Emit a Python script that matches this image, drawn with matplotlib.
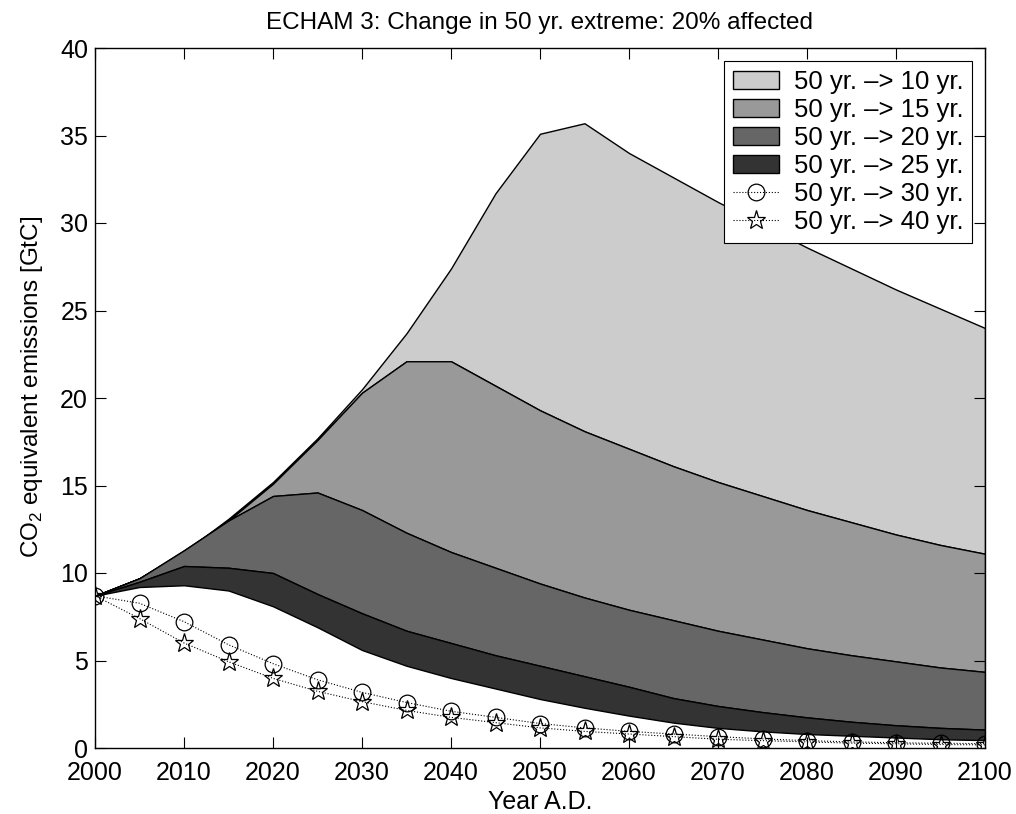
import matplotlib
matplotlib.use("Agg")
import matplotlib.pyplot as plt
import numpy as np

plt.rcParams['font.family'] = ['Liberation Sans', 'DejaVu Sans']
plt.rcParams['mathtext.fontset'] = 'custom'
plt.rcParams['mathtext.rm'] = 'Liberation Sans'

years = list(range(2000, 2101, 5))

y10 = [8.7, 9.7, 11.2, 13.1, 15.2, 17.7, 20.5, 23.7, 27.4, 31.7, 35.1, 35.7,
       34.0, 32.6, 31.2, 29.9, 28.6, 27.4, 26.2, 25.1, 24.0]
y15 = [8.7, 9.7, 11.2, 13.0, 15.1, 17.6, 20.3, 22.1, 22.1, 20.7, 19.3, 18.1,
       17.1, 16.1, 15.2, 14.4, 13.6, 12.9, 12.2, 11.6, 11.1]
y20 = [8.7, 9.7, 11.3, 13.0, 14.4, 14.6, 13.6, 12.3, 11.2, 10.3, 9.4, 8.6,
       7.9, 7.3, 6.7, 6.2, 5.7, 5.3, 4.95, 4.6, 4.35]
y25 = [8.7, 9.5, 10.4, 10.3, 10.0, 8.8, 7.7, 6.7, 6.0, 5.3, 4.7, 4.1,
       3.5, 2.85, 2.4, 2.05, 1.75, 1.5, 1.3, 1.15, 1.05]
ybase = [8.7, 9.2, 9.3, 9.0, 8.1, 6.9, 5.6, 4.7, 4.0, 3.4, 2.8, 2.3,
         1.85, 1.45, 1.15, 0.95, 0.8, 0.7, 0.6, 0.5, 0.45]
y30 = [8.7, 8.27, 7.22, 5.9, 4.82, 3.9, 3.18, 2.6, 2.1, 1.75, 1.4, 1.15,
       0.95, 0.8, 0.65, 0.52, 0.42, 0.35, 0.3, 0.27, 0.25]
y40 = [8.7, 7.4, 6.0, 4.93, 3.98, 3.24, 2.65, 2.15, 1.75, 1.45, 1.15, 0.95,
       0.8, 0.65, 0.5, 0.42, 0.35, 0.28, 0.24, 0.2, 0.18]

labels = ['50 yr. \u2013> 10 yr.', '50 yr. \u2013> 15 yr.', '50 yr. \u2013> 20 yr.',
          '50 yr. \u2013> 25 yr.', '50 yr. \u2013> 30 yr.', '50 yr. \u2013> 40 yr.']

fig = plt.figure(figsize=(10.16, 8.14), dpi=100)
ax = fig.add_axes([95/1016, 66/814, 890/1016, 700/814])

bands = [(y15, y10, '#cccccc'), (y20, y15, '#999999'),
         (y25, y20, '#666666'), (ybase, y25, '#333333')]
handles = []
for (lo, hi, c), lab in zip(bands, labels[:4]):
    h = ax.fill_between(years, lo, hi, facecolor=c, edgecolor='black',
                        linewidth=1.0, label=lab)
    handles.append(h)

h30, = ax.plot(years, y30, linestyle=':', color='black', linewidth=0.8,
               marker='o', markersize=12, markerfacecolor='none',
               markeredgecolor='black', markeredgewidth=0.9, label=labels[4])
h40, = ax.plot(years, y40, linestyle=':', color='black', linewidth=0.8,
               marker='*', markersize=14, markerfacecolor='none',
               markeredgecolor='black', markeredgewidth=0.9, label=labels[5])
handles += [h30, h40]

ax.set_xlim(2000, 2100)
ax.set_ylim(0, 40)
ax.set_xticks(range(2000, 2101, 10))
ax.set_yticks(range(0, 41, 5))
ax.tick_params(direction='in', top=True, right=True, length=8, width=0.8,
               labelsize=18)
ax.tick_params(axis='x', pad=9)
ax.tick_params(axis='y', pad=5)
for s in ax.spines.values():
    s.set_linewidth(1.0)

ax.set_title('ECHAM 3: Change in 50 yr. extreme: 20% affected', fontsize=17.5, pad=14)
ax.set_xlabel('Year A.D.', fontsize=18, labelpad=4)
ax.set_ylabel('CO$_2$ equivalent emissions [GtC]', fontsize=17.5)
ax.yaxis.set_label_coords(-0.056, 0.516)

leg = ax.legend(handles=handles, labels=labels, loc='upper right',
                fontsize=18.5, numpoints=1, fancybox=False, framealpha=1,
                edgecolor='black', borderaxespad=0.5, handlelength=1.8,
                handletextpad=0.55, labelspacing=0.16, borderpad=0.35)
leg.get_frame().set_linewidth(0.8)

fig.savefig('out.png', dpi=100)
